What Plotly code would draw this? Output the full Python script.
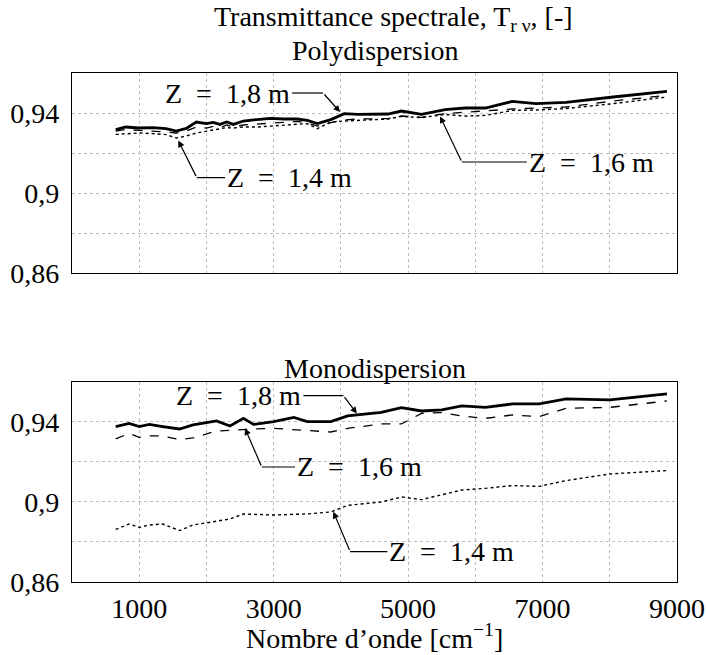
import plotly.graph_objects as go
from plotly.subplots import make_subplots

# wavenumber grids [cm-1]
nu_poly = [650, 800, 1000, 1200, 1400, 1550, 1700, 1850, 2000, 2100, 2200, 2300,
           2400, 2550, 2750, 2950, 3150, 3350, 3500, 3650, 3850, 4050, 4250, 4700,
           4900, 5200, 5550, 5850, 6150, 6550, 6900, 7350, 8050, 8850]
nu_mono = [650, 850, 1000, 1150, 1350, 1600, 1800, 2150, 2350, 2550, 2700, 3000,
           3300, 3500, 3850, 4100, 4600, 4900, 5200, 5500, 5800, 6150, 6550, 6950,
           7350, 8000, 8850]

# Polydispersion transmittance
poly_z18 = [0.9317, 0.9330, 0.9325, 0.9327, 0.9322, 0.9310, 0.9323, 0.9355, 0.9347,
            0.9353, 0.9343, 0.9355, 0.9343, 0.9360, 0.9367, 0.9373, 0.9370, 0.9370,
            0.9363, 0.9347, 0.9367, 0.9397, 0.9393, 0.9395, 0.9410, 0.9393, 0.9417,
            0.9425, 0.9425, 0.9458, 0.9447, 0.9453, 0.9480, 0.9508]
poly_z16 = [0.9310, 0.9318, 0.9313, 0.9310, 0.9305, 0.9300, 0.9310, 0.9330, 0.9325,
            0.9333, 0.9325, 0.9340, 0.9330, 0.9340, 0.9345, 0.9350, 0.9355, 0.9358,
            0.9350, 0.9335, 0.9352, 0.9365, 0.9370, 0.9372, 0.9385, 0.9378, 0.9397,
            0.9405, 0.9410, 0.9420, 0.9425, 0.9430, 0.9460, 0.9488]
poly_z14 = [0.9293, 0.9297, 0.9300, 0.9297, 0.9292, 0.9275, 0.9285, 0.9300, 0.9310,
            0.9315, 0.9320, 0.9327, 0.9325, 0.9330, 0.9330, 0.9335, 0.9338, 0.9345,
            0.9347, 0.9322, 0.9355, 0.9360, 0.9363, 0.9370, 0.9383, 0.9377, 0.9393,
            0.9385, 0.9388, 0.9413, 0.9415, 0.9422, 0.9447, 0.9480]

# Monodispersion transmittance
mono_z18 = [0.9377, 0.9393, 0.9377, 0.9388, 0.9377, 0.9365, 0.9385, 0.9405, 0.9380,
            0.9418, 0.9388, 0.9402, 0.9423, 0.9402, 0.9402, 0.9430, 0.9448, 0.9472,
            0.9455, 0.9460, 0.9480, 0.9473, 0.9490, 0.9490, 0.9515, 0.9510, 0.9540]
mono_z16 = [0.9315, 0.9343, 0.9323, 0.9330, 0.9330, 0.9312, 0.9320, 0.9355, 0.9358,
            0.9363, 0.9365, 0.9368, 0.9362, 0.9357, 0.9350, 0.9368, 0.9390, 0.9390,
            0.9443, 0.9447, 0.9430, 0.9418, 0.9435, 0.9427, 0.9468, 0.9473, 0.9505]
mono_z14 = [0.8863, 0.8890, 0.8873, 0.8885, 0.8890, 0.8857, 0.8885, 0.8905, 0.8915,
            0.8940, 0.8938, 0.8935, 0.8938, 0.8940, 0.8950, 0.8983, 0.9000, 0.9025,
            0.9012, 0.9035, 0.9060, 0.9068, 0.9082, 0.9078, 0.9107, 0.9140, 0.9157]

y_ticks = [0.86, 0.88, 0.90, 0.92, 0.94, 0.96]
y_labels = ["0,86", "", "0,9", "", "0,94", ""]
x_ticks = [1000, 2000, 3000, 4000, 5000, 6000, 7000, 8000, 9000]
x_labels = ["1000", "", "3000", "", "5000", "", "7000", "", "9000"]

# label text, (text x, text y, anchor), leader bend (x, y), arrow tip (x, y)
labels_poly = [
    ("Z\u2002=\u20021,8 m", 3274, 0.9500, "right", 3735, 0.9500, 3988, 0.9405),
    ("Z\u2002=\u20021,6 m", 6766, 0.9155, "left", 5799, 0.9155, 5476, 0.9383),
    ("Z\u2002=\u20021,4 m", 2277, 0.9077, "left", 1856, 0.9077, 1582, 0.9262),
]
labels_mono = [
    ("Z\u2002=\u20021,8 m", 3442, 0.9532, "right", 4037, 0.9532, 4237, 0.9442),
    ("Z\u2002=\u20021,6 m", 3318, 0.9175, "left", 2823, 0.9175, 2574, 0.9368),
    ("Z\u2002=\u20021,4 m", 4690, 0.8752, "left", 4137, 0.8752, 3888, 0.8951),
]

FONT = "Liberation Serif"
FS = 28

fig = make_subplots(rows=2, cols=1, vertical_spacing=0.214)

styles = [
    dict(width=2.8, color="black", dash="solid"),
    dict(width=1.3, color="black", dash="dash"),
    dict(width=1.4, color="black", dash="dot"),
]

for row, nu, series in [(1, nu_poly, [poly_z18, poly_z16, poly_z14]),
                        (2, nu_mono, [mono_z18, mono_z16, mono_z14])]:
    for vals, st in zip(series, styles):
        fig.add_trace(
            go.Scatter(x=nu, y=vals, mode="lines", line=st, showlegend=False),
            row=row, col=1,
        )

for row, labels in [(1, labels_poly), (2, labels_mono)]:
    xr = "x" if row == 1 else "x2"
    yr = "y" if row == 1 else "y2"
    for text, tx, ty, anchor, bx, by, px, py in labels:
        fig.add_annotation(x=tx, y=ty, xref=xr, yref=yr, text=text, showarrow=False,
                           xanchor=anchor, yanchor="middle",
                           font=dict(family=FONT, size=FS, color="black"))
        # horizontal part of the leader
        fig.add_shape(type="line", xref=xr, yref=yr, x0=bx, y0=by, x1=tx, y1=by,
                      line=dict(color="black", width=1.2))
        # slanted part with arrow head
        fig.add_annotation(x=px, y=py, ax=bx, ay=by, xref=xr, yref=yr,
                           axref=xr, ayref=yr, text="", showarrow=True,
                           arrowhead=2, arrowsize=1.1, arrowwidth=1.2,
                           arrowcolor="black", standoff=0)

axis_common = dict(showline=True, linecolor="black", linewidth=1.3, mirror=True,
                   showgrid=True, gridcolor="#bdbdbd", griddash="dot", gridwidth=1,
                   zeroline=False, ticks="", automargin=False,
                   tickfont=dict(family=FONT, size=FS, color="black"))

fig.update_xaxes(range=[0, 9000], tickmode="array", tickvals=x_ticks,
                 ticktext=x_labels, ticklabelstandoff=1, **axis_common)
fig.update_xaxes(showticklabels=False, row=1, col=1)
fig.update_yaxes(range=[0.86, 0.96], tickmode="array", tickvals=y_ticks,
                 ticktext=y_labels, ticklabelstandoff=6, **axis_common)

fig.update_yaxes(domain=[0.607, 1.0], row=1, col=1)
fig.update_yaxes(domain=[0.0, 0.393], row=2, col=1)

titles = [
    ("Transmittance spectrale, T<sub>r ν</sub>, [-]", 0.532, 1.108),
    ("Polydispersion", 0.5, 1.045),
    ("Monodispersion", 0.5, 0.4185),
    ("Nombre d\u2019onde [cm<sup>\u22121</sup>]", 0.5, -0.108),
]
for text, x, y in titles:
    fig.add_annotation(x=x, y=y, xref="paper", yref="paper", text=text,
                       showarrow=False, xanchor="center", yanchor="middle",
                       font=dict(family=FONT, size=FS, color="black"))

fig.update_layout(
    width=706,
    height=655,
    margin=dict(l=72, r=29, t=73, b=73),
    plot_bgcolor="white",
    paper_bgcolor="white",
    font=dict(family=FONT, size=FS, color="black"),
    showlegend=False,
)

fig.write_html("out.html", config={"displayModeBar": False},
               post_script="document.body.style.margin='0';")
